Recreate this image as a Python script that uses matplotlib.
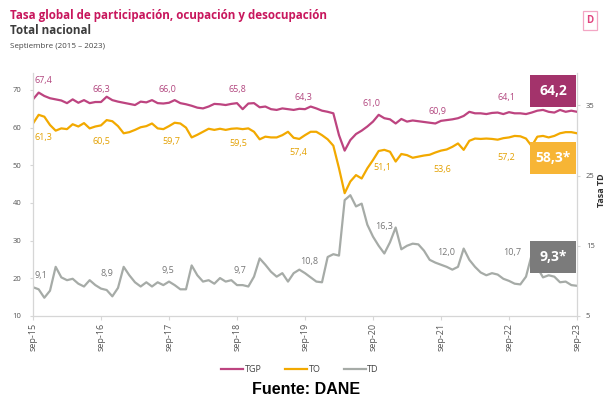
import numpy as np
import matplotlib
matplotlib.use('Agg')
import matplotlib.pyplot as plt
from matplotlib.patches import Rectangle

# ---------------- data ----------------
months = np.arange(97)  # sep-2015 ... sep-2023 (monthly)
tick_pos = [0, 12, 24, 36, 48, 60, 72, 84, 96]
tick_labels = ['sep-15', 'sep-16', 'sep-17', 'sep-18', 'sep-19',
               'sep-20', 'sep-21', 'sep-22', 'sep-23']

tgp = [67.5, 69.3, 68.4, 67.8, 67.5, 67.2, 66.5, 67.5, 66.6, 67.3, 66.5, 66.8,
       66.8, 68.2, 67.3, 66.9, 66.6, 66.3, 66.0, 66.9, 66.7, 67.3, 66.5, 66.4,
       66.6, 67.3, 66.5, 66.2, 65.8, 65.3, 65.1, 65.6, 66.3, 66.2, 66.0, 66.3,
       66.5, 64.9, 66.4, 66.5, 65.4, 65.6, 64.9, 64.7, 65.1, 64.9, 64.7, 65.0,
       64.9, 65.6, 65.1, 64.5, 64.2, 63.8, 58.0, 53.9, 56.7, 58.3, 59.2, 60.3,
       61.6, 63.4, 62.5, 62.2, 61.1, 62.3, 61.6, 61.9, 61.7, 61.5, 61.3, 61.1,
       61.8, 62.0, 62.2, 62.5, 63.1, 64.2, 63.8, 63.8, 63.6, 63.9, 64.0, 63.6,
       64.1, 63.8, 63.8, 63.6, 64.0, 64.5, 64.7, 64.2, 64.0, 64.7, 64.2, 64.5,
       64.2]

to = [61.1, 63.4, 62.9, 60.7, 59.2, 59.8, 59.6, 60.9, 60.3, 61.2, 59.8, 60.3,
      60.6, 62.0, 61.7, 60.4, 58.5, 58.8, 59.4, 60.1, 60.4, 61.1, 59.8, 59.6,
      60.4, 61.3, 61.1, 60.0, 57.4, 58.1, 58.9, 59.7, 59.4, 59.7, 59.4, 59.7,
      59.8, 59.6, 59.8, 58.9, 56.9, 57.6, 57.4, 57.4, 58.0, 58.9, 57.3, 57.0,
      58.0, 58.9, 58.9, 58.0, 56.9, 55.2, 49.2, 42.6, 45.7, 47.4, 46.5, 49.2,
      51.4, 53.8, 54.1, 53.6, 51.0, 53.0, 52.7, 52.0, 52.3, 52.6, 52.8, 53.4,
      53.9, 54.2, 54.9, 55.8, 54.1, 56.5, 57.1, 57.0, 57.1, 57.0, 56.8, 57.2,
      57.4, 57.8, 57.7, 57.1, 55.1, 57.6, 57.8, 57.4, 57.8, 58.5, 58.8, 58.8,
      58.5]

td = [9.1, 8.8, 7.6, 8.6, 12.0, 10.5, 10.1, 10.3, 9.6, 9.2, 10.1, 9.4,
      8.9, 8.7, 7.8, 9.0, 12.0, 10.8, 9.8, 9.2, 9.8, 9.2, 9.8, 9.4,
      9.9, 9.4, 8.8, 8.8, 12.2, 10.8, 9.9, 10.1, 9.6, 10.4, 9.9, 10.1,
      9.4, 9.4, 9.2, 10.6, 13.2, 12.3, 11.3, 10.6, 11.1, 9.9, 11.1, 11.6,
      11.1, 10.5, 9.9, 9.8, 13.4, 13.8, 13.6, 21.5, 22.2, 20.6, 21.0, 18.0,
      16.3, 15.0, 13.9, 15.5, 17.6, 14.5, 15.0, 15.3, 15.2, 14.3, 13.0, 12.6,
      12.3, 12.0, 11.6, 12.0, 14.6, 13.0, 12.0, 11.2, 10.8, 11.1, 10.9, 10.3,
      10.0, 9.6, 9.5, 10.6, 13.7, 11.9, 10.5, 10.8, 10.6, 9.8, 9.9, 9.4,
      9.3]

tgp_labels = ['67,4', '66,3', '66,0', '65,8', '64,3', '61,0', '60,9', '64,1']
to_labels = ['61,3', '60,5', '59,7', '59,5', '57,4', '51,1', '53,6', '57,2']
td_labels = ['9,1', '8,9', '9,5', '9,7', '10,8', '16,3', '12,0', '10,7']
last_labels = ['64,2', '58,3*', '9,3*']

# label anchor positions (text placement only)
tgp_lab_pos = [(1.9, 72.4), (12.0, 70.1), (23.8, 70.1), (36.0, 70.0),
               (47.8, 68.1), (59.8, 66.5), (71.3, 64.2), (83.6, 67.9)]
to_lab_pos = [(1.9, 57.25), (12.0, 56.2), (24.4, 56.2), (36.2, 55.9),
              (46.9, 53.5), (61.6, 49.3), (72.2, 48.8), (83.6, 52.2)]
td_lab_pos = [(1.4, 10.8), (13.1, 11.1), (23.8, 11.5), (36.5, 11.5),
              (48.7, 12.7), (61.9, 17.7), (72.9, 14.1), (84.5, 14.1)]

# ---------------- style ----------------
C_TGP = '#bd4480'
C_TO = '#f2a900'
C_TD = '#a6aba7'
C_TGP_BOX = '#a3336b'
C_TO_BOX = '#f7b535'
C_TD_BOX = '#7b7b7b'
C_TGP_TXT = '#b2467f'
C_TO_TXT = '#e3a000'
C_TD_TXT = '#777777'
SPINE = '#d6d6d6'
FONT = ['Open Sans', 'DejaVu Sans']

W, H = 612, 404
fig = plt.figure(figsize=(W / 100, H / 100), dpi=100)
fig.patch.set_facecolor('white')

def fx(px):
    return px / W

def fy(py):
    return 1 - py / H

ax = fig.add_axes([fx(33), fy(316), fx(577) - fx(33), fy(73) - fy(316)])
ax2 = ax.twinx()
ax.set_zorder(ax2.get_zorder() + 1)
ax.patch.set_visible(False)

l_tgp, = ax.plot(months, tgp, color=C_TGP, lw=1.6, solid_joinstyle='round', label='TGP')
l_to, = ax.plot(months, to, color=C_TO, lw=1.6, solid_joinstyle='round', label='TO')
l_td, = ax2.plot(months, td, color=C_TD, lw=1.6, solid_joinstyle='round', label='TD')

ax.set_xlim(0, 96)
ax.set_ylim(10, 74.5)
ax2.set_ylim(5, 39.6)
ax.set_yticks([10, 20, 30, 40, 50, 60, 70])
ax2.set_yticks([5, 15, 25, 35])
ax.set_xticks(tick_pos)
ax.set_xticklabels(tick_labels, rotation=90, fontsize=6.5, color='#555555',
                   family=FONT)
for lab in ax.get_yticklabels():
    lab.set_fontsize(5.5); lab.set_color('#555555'); lab.set_family(FONT)
for lab in ax2.get_yticklabels():
    lab.set_fontsize(5.5); lab.set_color('#555555'); lab.set_family(FONT)

for a in (ax, ax2):
    a.spines['top'].set_visible(False)
    for s in ('left', 'right', 'bottom'):
        a.spines[s].set_color(SPINE)
        a.spines[s].set_linewidth(0.9)
ax.spines['right'].set_visible(False)
ax2.spines['left'].set_visible(False)
ax2.spines['bottom'].set_visible(False)
ax.tick_params(axis='y', length=2.5, color=SPINE, pad=6)
ax.tick_params(axis='x', length=3, color=SPINE, pad=2)
ax2.tick_params(axis='y', length=2.5, color=SPINE, pad=4)

fig.text(fx(601), fy(190), 'Tasa TD', fontsize=6.5, fontweight='bold',
         color='#333333', family=FONT, rotation=90, ha='center', va='center')

# series labels
for txt, (x, y) in zip(tgp_labels, tgp_lab_pos):
    ax.text(x, y, txt, color=C_TGP_TXT, fontsize=6.5, ha='center', va='center',
            family=FONT)
for txt, (x, y) in zip(to_labels, to_lab_pos):
    ax.text(x, y, txt, color=C_TO_TXT, fontsize=6.5, ha='center', va='center',
            family=FONT)
for txt, (x, y) in zip(td_labels, td_lab_pos):
    ax2.text(x, y, txt, color=C_TD_TXT, fontsize=6.5, ha='center', va='center',
             family=FONT)

# last value boxes
boxes = [(530, 75, C_TGP_BOX), (530, 142, C_TO_BOX), (530, 241, C_TD_BOX)]
for txt, (bx, by, bc) in zip(last_labels, boxes):
    bw, bh = 46, 32
    fig.add_artist(Rectangle((fx(bx), fy(by + bh)), bw / W, bh / H,
                             transform=fig.transFigure, facecolor=bc,
                             edgecolor='none', zorder=5))
    fig.text(fx(bx + bw / 2), fy(by + bh / 2), txt, color='white',
             fontsize=10, fontweight='bold', ha='center', va='center',
             family=FONT, zorder=6)

# titles
fig.text(fx(10), fy(16), 'Tasa global de participación, ocupación y desocupación',
         color='#c8175d', fontsize=8.4, fontweight='bold', ha='left',
         va='center', family=FONT)
fig.text(fx(10), fy(31), 'Total nacional', color='#3c3c3c', fontsize=8.4,
         fontweight='bold', ha='left', va='center', family=FONT)
fig.text(fx(10), fy(47), 'Septiembre (2015 – 2023)', color='#444444',
         fontsize=5.8, ha='left', va='center', family=FONT)

# logo
fig.add_artist(Rectangle((fx(583), fy(30)), 14 / W, 19 / H,
                         transform=fig.transFigure, facecolor='white',
                         edgecolor='#f3a6c4', lw=0.9))
fig.text(fx(590), fy(20.5), 'D', color='#e0457f', fontsize=7,
         fontweight='bold', ha='center', va='center', family=FONT)

# legend
leg = fig.legend(handles=[l_tgp, l_to, l_td], labels=['TGP', 'TO', 'TD'],
                 loc='center', bbox_to_anchor=(fx(300), fy(370)), ncol=3,
                 frameon=False, handlelength=2.4,
                 handletextpad=0.2, columnspacing=2.6,
                 prop={'family': FONT, 'size': 6.5})
for t in leg.get_texts():
    t.set_color('#444444')

fig.text(fx(306), fy(390), 'Fuente: DANE', color='black', fontsize=11.5,
         fontweight='bold', ha='center', va='center',
         family=['Liberation Sans', 'DejaVu Sans'])

fig.savefig('out.png', dpi=100, facecolor='white')
